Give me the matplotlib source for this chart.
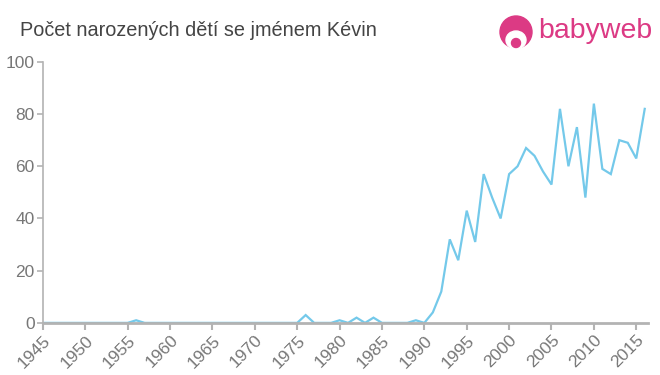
import matplotlib
matplotlib.use('Agg')
import matplotlib.pyplot as plt
from matplotlib.patches import Ellipse

plt.rcParams['font.family'] = ['Liberation Sans', 'DejaVu Sans']

# data
years = list(range(1945, 2017))
nonzero = {1956: 1, 1976: 3, 1980: 1, 1982: 2, 1984: 2, 1989: 1, 1991: 4, 1992: 12,
           1993: 32, 1994: 24, 1995: 43, 1996: 31, 1997: 57, 1998: 48, 1999: 40,
           2000: 57, 2001: 60, 2002: 67, 2003: 64, 2004: 58, 2005: 53, 2006: 82,
           2007: 60, 2008: 75, 2009: 48, 2010: 84, 2011: 59, 2012: 57, 2013: 70,
           2014: 69, 2015: 63, 2016: 82}
counts = [nonzero.get(y, 0) for y in years]
xticks = list(range(1945, 2016, 5))
yticks = [0, 20, 40, 60, 80, 100]

grey = '#b3b3b3'
label_grey = '#777777'

fig = plt.figure(figsize=(6.6, 3.75), dpi=100)
ax = fig.add_axes([0.065, 0.139, 0.917, 0.696])
ax.plot(years, counts, color='#74c9ea', lw=1.6, solid_joinstyle='miter')

ax.set_xlim(1945, 2016.4)
ax.set_ylim(0, 100)
ax.set_xticks(xticks)
ax.set_yticks(yticks)
ax.set_xticklabels([str(x) for x in xticks], rotation=45, ha='right', rotation_mode='anchor')
ax.tick_params(axis='x', colors=grey, length=5, width=1.5, labelcolor=label_grey, labelsize=12.5, pad=2)
ax.tick_params(axis='y', colors=grey, length=4, width=1.2, labelcolor=label_grey, labelsize=12.5, pad=2)
for s in ['top', 'right']:
    ax.spines[s].set_visible(False)
ax.spines['left'].set_color(grey)
ax.spines['left'].set_linewidth(1.2)
ax.spines['bottom'].set_color(grey)
ax.spines['bottom'].set_linewidth(2)

fig.text(0.03, 0.918, 'Počet narozených dětí se jménem Kévin', fontsize=14.3, color='#444444',
         ha='left', va='center')

# logo (sizes in pixels converted to figure fractions)
W, H = 660.0, 375.0
pink = '#dc3a84'
cx, cy = 516 / W, 1 - 32 / H
fig.patches.append(Ellipse((cx, cy), 32 / W, 32 / H, transform=fig.transFigure, color=pink, zorder=3))
fig.patches.append(Ellipse((cx, cy - 8 / H), 20 / W, 18 / H, transform=fig.transFigure, color='white', zorder=4))
fig.patches.append(Ellipse((cx, cy - 11 / H), 9 / W, 9 / H, transform=fig.transFigure, color=pink, zorder=5))
fig.text(538 / W, cy + 1 / H, 'babyweb', fontsize=20.5, color=pink, ha='left', va='center')

fig.savefig('out.png', dpi=100)
